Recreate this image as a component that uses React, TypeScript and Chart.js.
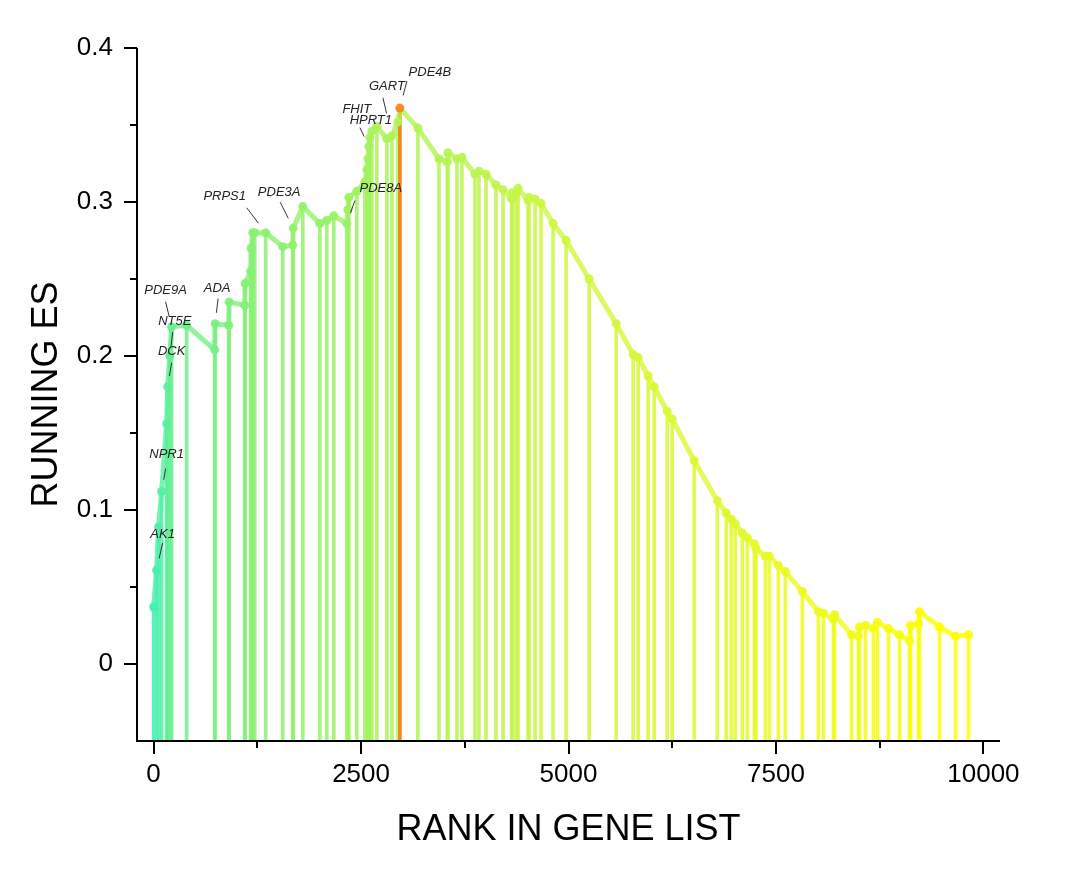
import { useEffect, useRef } from "react";
import { Chart, registerables } from "chart.js";

Chart.register(...registerables);

// ---------------- data ----------------
const ranks: number[] = [
  0, 36, 60, 97, 157, 169, 195, 217, 398, 736, 741, 905, 910, 1098, 1103, 1170, 1175, 1195, 1219, 1351,
  1556, 1677, 1682, 1798, 2003, 2087, 2172, 2329, 2341, 2353, 2449, 2546, 2570, 2582, 2594, 2606, 2630,
  2691, 2811, 2872, 2944, 2968, 3185, 3439, 3540, 3547, 3656, 3716, 3873, 3921, 4006, 4126, 4211, 4315,
  4320, 4368, 4392, 4513, 4525, 4597, 4669, 4814, 4971, 5249, 5574, 5779, 5840, 5960, 6033, 6190, 6250,
  6515, 6793, 6901, 6962, 7010, 7095, 7155, 7240, 7260, 7372, 7420, 7529, 7613, 7818, 8012, 8072, 8192,
  8205, 8410, 8494, 8506, 8579, 8675, 8723, 8856, 8989, 9110, 9122, 9218, 9230, 9471, 9665, 9821,
];

const runningES: number[] = [
  0.037, 0.061, 0.089, 0.112, 0.156, 0.18, 0.2, 0.219, 0.22, 0.204, 0.221, 0.22, 0.235, 0.233, 0.247,
  0.255, 0.27, 0.28, 0.28, 0.28, 0.271, 0.272, 0.283, 0.297, 0.286, 0.288, 0.291, 0.286, 0.295, 0.303,
  0.307, 0.313, 0.321, 0.328, 0.336, 0.342, 0.346, 0.349, 0.341, 0.343, 0.352, 0.361, 0.348, 0.328,
  0.326, 0.332, 0.328, 0.329, 0.318, 0.32, 0.318, 0.311, 0.308, 0.302, 0.306, 0.305, 0.309, 0.301,
  0.303, 0.302, 0.299, 0.286, 0.275, 0.25, 0.221, 0.201, 0.199, 0.187, 0.18, 0.164, 0.159, 0.132,
  0.106, 0.098, 0.094, 0.091, 0.085, 0.082, 0.078, 0.075, 0.07, 0.07, 0.064, 0.06, 0.047, 0.034,
  0.033, 0.029, 0.032, 0.019, 0.018, 0.024, 0.025, 0.023, 0.027, 0.023, 0.019, 0.015, 0.025, 0.026,
  0.034, 0.024, 0.018, 0.019,
];

const highlightIndex = 41; // PDE4B (peak)

const xMajorTicks = [0, 2500, 5000, 7500, 10000];
const xMinorTicks = [1250, 3750, 6250, 8750];
const yMajorTicks = [0, 0.1, 0.2, 0.3, 0.4];
const yMinorTicks = [0.05, 0.15, 0.25, 0.35];

const labelGenes = ["AK1", "NPR1", "DCK", "NT5E", "PDE9A", "ADA", "PRPS1", "PDE3A", "PDE8A", "HPRT1", "FHIT", "GART", "PDE4B"];
const labelTargets = [1, 3, 5, 6, 7, 10, 19, 22, 27, 34, 33, 39, 41];

const xTitle = "RANK IN GENE LIST";
const yTitle = "RUNNING ES";

// ---------------- layout / style ----------------
const X_MIN = -200;
const X_MAX = 10200;
const Y_MIN = -0.05;
const Y_MAX = 0.4;

// text offset [dx, dy], leader start [lx, ly] (relative to point), leader end gap from point (0 = none)
const labelLayout: { text: [number, number]; start: [number, number]; gap: number }[] = [
  { text: [6, -36], start: [6, -27], gap: 12 },
  { text: [5, -37], start: [4, -23], gap: 12 },
  { text: [4, -35], start: [4, -24], gap: 11 },
  { text: [5, -35], start: [3, -24], gap: 9 },
  { text: [-6, -36], start: [-6, -25], gap: 11 },
  { text: [2, -35], start: [3, -25], gap: 11 },
  { text: [-41, -36], start: [-19, -25], gap: 12 },
  { text: [-14, -36], start: [-13, -26], gap: 11 },
  { text: [34, -35], start: [8, -23], gap: 11 },
  { text: [2, -26], start: [-9, -19], gap: 11 },
  { text: [-11, -49], start: [0, 0], gap: 0 },
  { text: [-5, -49], start: [-9, -38], gap: 23 },
  { text: [30, -36], start: [7, -27], gap: 13 },
];

const FONT = "Arial, 'Liberation Sans', sans-serif";
const HIGHLIGHT: [number, number, number] = [246, 134, 30];

const colorStops: [number, [number, number, number]][] = [
  [0, [64, 240, 180]],
  [0.1, [125, 240, 125]],
  [0.3, [160, 243, 95]],
  [0.55, [200, 246, 70]],
  [0.8, [235, 250, 35]],
  [1, [255, 255, 0]],
];

function gradientAt(i: number, alpha: number): string {
  const t = i / (ranks.length - 1);
  for (let k = 0; k < colorStops.length - 1; k++) {
    const [t0, c0] = colorStops[k];
    const [t1, c1] = colorStops[k + 1];
    if (t >= t0 && t <= t1) {
      const f = (t - t0) / (t1 - t0);
      const c = c0.map((v, j) => Math.round(v + (c1[j] - v) * f));
      return `rgba(${c[0]},${c[1]},${c[2]},${alpha})`;
    }
  }
  return `rgba(255,255,0,${alpha})`;
}

function colorAt(i: number, alpha: number): string {
  if (i === highlightIndex) return `rgba(${HIGHLIGHT[0]},${HIGHLIGHT[1]},${HIGHLIGHT[2]},${alpha})`;
  return gradientAt(i, alpha);
}

const decorPlugin = {
  id: "decor",
  afterDatasetsDraw(chart: any) {
    const ctx = chart.ctx as CanvasRenderingContext2D;
    const { left, right, top, bottom } = chart.chartArea;
    const xs = chart.scales.x;
    const ys = chart.scales.y;
    ctx.save();
    ctx.strokeStyle = "#000";
    ctx.lineWidth = 2;
    ctx.lineCap = "butt";
    // axes lines
    ctx.beginPath();
    ctx.moveTo(left, top);
    ctx.lineTo(left, bottom + 1);
    ctx.moveTo(left - 1, bottom);
    ctx.lineTo(right, bottom);
    ctx.stroke();
    // ticks
    ctx.beginPath();
    for (const v of yMajorTicks) {
      const p = Math.round(ys.getPixelForValue(v));
      ctx.moveTo(left - 13, p);
      ctx.lineTo(left, p);
    }
    for (const v of yMinorTicks) {
      const p = Math.round(ys.getPixelForValue(v));
      ctx.moveTo(left - 7, p);
      ctx.lineTo(left, p);
    }
    for (const v of xMajorTicks) {
      const p = Math.round(xs.getPixelForValue(v));
      ctx.moveTo(p, bottom);
      ctx.lineTo(p, bottom + 13);
    }
    for (const v of xMinorTicks) {
      const p = Math.round(xs.getPixelForValue(v));
      ctx.moveTo(p, bottom);
      ctx.lineTo(p, bottom + 7);
    }
    ctx.stroke();

    // gene labels
    ctx.font = `italic 13px ${FONT}`;
    ctx.fillStyle = "#222";
    ctx.textAlign = "center";
    ctx.textBaseline = "middle";
    ctx.strokeStyle = "#333";
    ctx.lineWidth = 1;
    labelGenes.forEach((g, k) => {
      const idx = labelTargets[k];
      const px = xs.getPixelForValue(ranks[idx]);
      const py = ys.getPixelForValue(runningES[idx]);
      const L = labelLayout[k];
      ctx.fillText(g, px + L.text[0], py + L.text[1]);
      if (L.gap > 0) {
        const sx = px + L.start[0];
        const sy = py + L.start[1];
        const d = Math.hypot(sx - px, sy - py);
        const ex = px + ((sx - px) / d) * L.gap;
        const ey = py + ((sy - py) / d) * L.gap;
        ctx.beginPath();
        ctx.moveTo(sx, sy);
        ctx.lineTo(ex, ey);
        ctx.stroke();
      }
    });

    // axis titles
    ctx.fillStyle = "#000";
    ctx.font = `36px ${FONT}`;
    ctx.textAlign = "center";
    ctx.textBaseline = "middle";
    ctx.fillText(xTitle, (left + right) / 2, 830);
    ctx.translate(47, (top + bottom) / 2);
    ctx.rotate(-Math.PI / 2);
    ctx.fillText(yTitle, 0, 0);
    ctx.restore();
  },
};

export default function App() {
  const ref = useRef<HTMLCanvasElement>(null);
  useEffect(() => {
    document.body.style.margin = "0";
    const points = ranks.map((r, i) => ({ x: r, y: runningES[i] }));
    const stems = ranks.map((r, i) => ({ x: r, y: [Y_MIN, runningES[i]] }));
    const chart = new Chart(ref.current as HTMLCanvasElement, {
      type: "line",
      data: {
        datasets: [
          {
            type: "line",
            data: points as any,
            order: 1,
            borderWidth: 5,
            borderColor: gradientAt(0, 0.8),
            segment: {
              borderColor: (c: any) => gradientAt(c.p1DataIndex, 0.8),
            },
            pointRadius: 4.5,
            pointBorderWidth: 0,
            pointBackgroundColor: ranks.map((_, i) => colorAt(i, 0.92)),
            pointBorderColor: ranks.map((_, i) => colorAt(i, 0.92)),
            tension: 0,
            fill: false,
          } as any,
          {
            type: "bar",
            data: stems as any,
            order: 2,
            barThickness: 3,
            backgroundColor: ranks.map((_, i) => colorAt(i, i === highlightIndex ? 1 : 0.85)),
            borderWidth: 0,
          } as any,
        ],
      },
      options: {
        responsive: false,
        animation: false,
        devicePixelRatio: 1,
        layout: { padding: { left: 0, top: 48, right: 80, bottom: 0 } },
        plugins: { legend: { display: false }, tooltip: { enabled: false } },
        scales: {
          x: {
            type: "linear",
            min: X_MIN,
            max: X_MAX,
            offset: false,
            grid: { display: false, drawTicks: false },
            border: { display: false },
            afterBuildTicks: (s: any) => {
              s.ticks = xMajorTicks.map((v) => ({ value: v }));
            },
            afterFit: (s: any) => {
              s.height = 131;
            },
            ticks: {
              font: { family: FONT, size: 26 },
              color: "#000",
              padding: 18,
              maxRotation: 0,
              autoSkip: false,
              callback: (v: any) => String(v),
            },
          },
          y: {
            type: "linear",
            min: Y_MIN,
            max: Y_MAX,
            grid: { display: false, drawTicks: false },
            border: { display: false },
            afterBuildTicks: (s: any) => {
              s.ticks = yMajorTicks.map((v) => ({ value: v }));
            },
            afterFit: (s: any) => {
              s.width = 137;
            },
            ticks: {
              font: { family: FONT, size: 26 },
              color: "#000",
              padding: 24,
              autoSkip: false,
              callback: (v: any) => (Number(v) === 0 ? "0" : Number(v).toFixed(1)),
            },
          },
        },
      },
      plugins: [decorPlugin],
    });
    return () => chart.destroy();
  }, []);
  return (
    <div style={{ width: 1080, height: 872, background: "#fff" }}>
      <canvas ref={ref} width={1080} height={872} style={{ display: "block" }} />
    </div>
  );
}
